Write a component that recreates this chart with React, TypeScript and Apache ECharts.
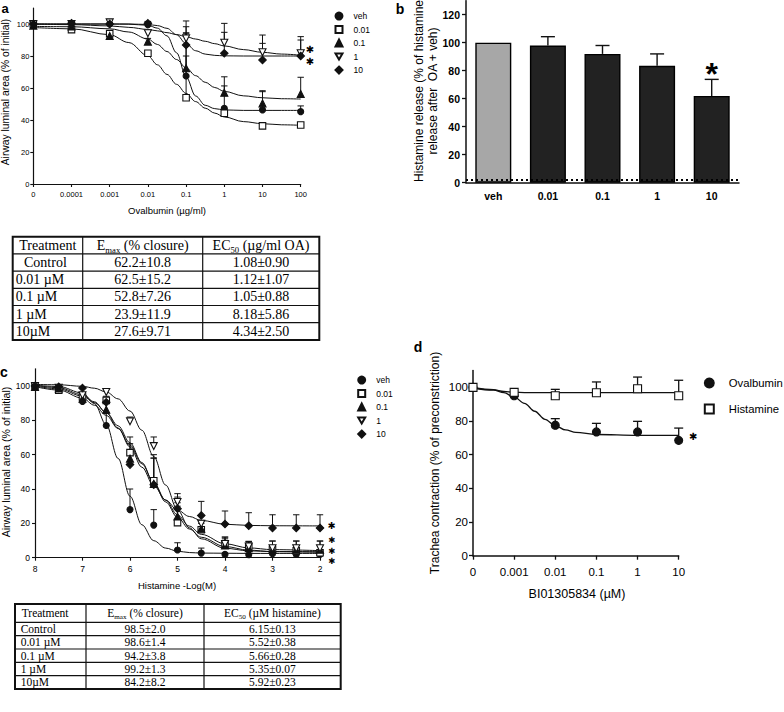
import React, { useEffect, useRef } from 'react';
import * as echarts from 'echarts';

const SANS = '"Liberation Sans", Arial, Helvetica, sans-serif';
const SERIF = '"Liberation Serif", "Times New Roman", Times, serif';
const STAR_FONT = '"DejaVu Sans", sans-serif';
const INK = '#111111';

// ---------- Panel a: ovalbumin concentration-response ----------
const aDoseLabels = ['0', '0.0001', '0.001', '0.01', '0.1', '1', '10', '100'];
const aDoseLog = [-5, -4, -3, -2, -1, 0, 1, 2];
const aVeh = [100, 100, 100, 99.5, 67.5, 47.3, 46.3, 45.2];
const aVehErr = [null, 102, null, 101.6, 98.3, 61.3, 57.7, 48.8];
const a001 = [100, 96.5, 94, 81.7, 53.9, 44.2, 36.3, 36.9];
const a001Err = [null, null, 95.5, 83, 80, 47, 38, 38.5];
const a01 = [99, 98.5, 92.5, 89, 72.3, 57.1, 50.4, 56.3];
const a01Err = [null, 100, 94, 91, 94.5, 67, 58.3, 66.7];
const a1 = [100, 100, 101, 94.2, 91, 88.3, 82.3, 81.7];
const a1Err = [null, null, 102.5, 96, 94.2, 100.4, 93.1, 92.1];
const a10 = [100, 100.5, 100, 100.4, 86.9, 81.7, 77.5, 80];
const a10Err = [null, null, null, 101.6, 101.9, 94.8, 87.9, 90];
// fitted curves
const aFitX = [-5, -4, -3, -2.5, -2, -1.75, -1.5, -1.25, -1, -0.75, -0.5, -0.25, 0, 0.5, 1, 1.5, 2];
const aVehFit = [100, 100, 100, 99.9, 99.2, 97.4, 92.6, 82.0, 66.9, 55.0, 49.2, 47.1, 46.3, 46.0, 46.0, 46.0, 46.0];
const a001Fit = [97.8, 97.0, 93.3, 88.4, 80.1, 74.5, 68.5, 62.3, 56.6, 51.5, 47.4, 44.3, 41.9, 39.0, 37.7, 37.0, 36.7];
const a01Fit = [98.5, 98.3, 97.0, 95.0, 90.6, 87.2, 82.8, 77.8, 72.6, 67.7, 63.6, 60.3, 57.9, 55.1, 53.9, 53.3, 53.1];
const a1Fit = [99.9, 99.6, 98.8, 97.9, 96.6, 95.7, 94.6, 93.4, 92.1, 90.6, 89.2, 87.7, 86.3, 84.0, 82.3, 81.2, 80.5];
const a10Fit = [100, 100, 100, 100, 99.7, 99.0, 97.3, 93.3, 87.7, 83.3, 81.2, 80.4, 80.1, 80, 80, 80, 80];

// ---------- Panel b: histamine release ----------
const bCats = ['veh', '0.01', '0.1', '1', '10'];
const bValues = [100, 98, 92, 83.5, 62];
const bErrTop = [null, 104.3, 98, 92, 73.8];
const bBaseline = 2;

// ---------- Panel c: histamine concentration-response ----------
const cDose = [8, 7.5, 7, 6.5, 6, 5.5, 5, 4.5, 4, 3.5, 3, 2.5, 2];
const cVeh = [99.5, 97.5, 91, 77, 28, 19, 4.5, 2.7, 1.9, 1.7, 2.3, 1.9, 1.9];
const cVehErr = [null, null, 93, 84, 40, 28, 8.7, 5.6, null, null, null, null, null];
const c001 = [100, 97.5, 93.6, 91.6, 61.2, 44.8, 20.4, 16.3, 7.6, 6.2, 4.6, 4.0, 2.9];
const c001Err = [null, null, null, 94, 70.3, 58, 32, 21.7, 12, 9.5, 7, 7, 7];
const c01 = [99.5, 98.5, 92.6, 86.2, 57.7, 43, 24, 16.9, 7.2, 5.6, 4.6, 4.6, 4.6];
const c01Err = [null, null, null, 90, 66.4, 60, 30, 20, 11, 9, 9.7, 9.7, 9.7];
const c1 = [100, 99, 94.6, 96.5, 79.4, 65, 32.4, 19.8, 8, 6.5, 5.5, 5.5, 5.5];
const c1Err = [null, null, null, 98, 81.9, 70.3, 35.3, 21.7, 12, 9.5, 9.7, 9.7, 9.7];
const c10 = [100, 99.5, 98.8, 90.5, 54.2, 42.5, 28.5, 24.6, 19.6, 18.6, 17.3, 17.3, 17.3];
const c10Err = [null, null, null, null, 60, 58, 37.3, 32.8, 27.2, 26.2, 25, 25, 25];
const cFitX = [8, 7.5, 7, 6.75, 6.5, 6.25, 6, 5.75, 5.5, 5.25, 5, 4.75, 4.5, 4, 3.5, 3, 2];
const cVehFit = [100.4, 99.7, 95.9, 89.8, 77.4, 57.8, 35.8, 19.2, 9.9, 5.6, 3.8, 3.0, 2.7, 2.6, 2.5, 2.5, 2.5];
const c001Fit = [99.6, 97.6, 92.9, 88.8, 82.9, 75.2, 65.6, 54.7, 43.7, 33.5, 24.9, 18.4, 13.6, 8.1, 5.7, 4.7, 4.1];
const c01Fit = [100.0, 98.3, 94.1, 90.3, 84.6, 76.8, 66.9, 55.4, 43.5, 32.5, 23.5, 16.7, 11.9, 6.5, 4.4, 3.5, 3.1];
const c1Fit = [100.9, 100.7, 99.8, 98.7, 96.5, 92.5, 85.4, 74.2, 58.9, 42.3, 27.8, 17.4, 11.0, 5.5, 4.0, 3.6, 3.5];
const c10Fit = [100.4, 99.0, 94.9, 90.8, 84.4, 75.5, 64.5, 52.7, 42.0, 33.6, 27.7, 24.0, 21.7, 19.5, 18.8, 18.6, 18.5];

// ---------- Panel d: trachea contraction ----------
const dDoseLabels = ['0', '0.001', '0.01', '0.1', '1', '10'];
const dDoseLog = [-4, -3, -2, -1, 0, 1];
const dOva = [100, 95, 77.5, 73.5, 73.5, 68.5];
const dOvaErr = [null, null, 81.4, 78.6, 79.8, 75.8];
const dHis = [100, 97, 95, 96.8, 99.2, 95];
const dHisErr = [null, null, 98.8, 103.2, 106.1, 104.2];
const dFitX = [-4, -3.5, -3.25, -3, -2.75, -2.5, -2.25, -2, -1.75, -1.5, -1, 0, 1];
const dOvaFit = [99.6, 98.3, 96.8, 94.3, 90.5, 85.8, 81.0, 77.2, 74.7, 73.2, 72.0, 71.5, 71.5];
const dHisFit = [99.9, 98.6, 97.6, 97.0, 96.9, 96.8, 96.8, 96.8, 96.8, 96.8, 96.8, 96.8, 96.8];

// ---------- Tables ----------
const t1Treatment = [' Control', '0.01 µM', '0.1 µM', '1 µM', '10µM'];
const t1Emax = ['62.2±10.8', '62.5±15.2', '52.8±7.26', '23.9±11.9', '27.6±9.71'];
const t1EC50 = ['1.08±0.90', '1.12±1.07', '1.05±0.88', '8.18±5.86', '4.34±2.50'];
const t2Treatment = ['Control', '0.01 µM', '0.1 µM', '1 µM', '10µM'];
const t2Emax = ['98.5±2.0', '98.6±1.4', '94.2±3.8', '99.2±1.3', '84.2±8.2'];
const t2EC50 = ['6.15±0.13', '5.52±0.38', '5.66±0.28', '5.35±0.07', '5.92±0.23'];

const TRI_DOWN = 'path://M0,0L10,0L5,8.66Z';

const pairs = (xs: number[], ys: number[]) => xs.map((x, i) => [x, ys[i]]);
const errData = (xs: number[], ys: number[], tops: (number | null)[]) =>
  xs.map((x, i) => [x, ys[i], tops[i]]).filter((d) => d[2] != null);

const errRender = (cap: number, lw: number) => (params: any, api: any) => {
  const p0 = api.coord([api.value(0), api.value(1)]);
  const p1 = api.coord([api.value(0), api.value(2)]);
  const style = { stroke: INK, lineWidth: lw, fill: 'none' };
  return {
    type: 'group',
    children: [
      { type: 'line', shape: { x1: p0[0], y1: p0[1], x2: p1[0], y2: p1[1] }, style },
      { type: 'line', shape: { x1: p1[0] - cap, y1: p1[1], x2: p1[0] + cap, y2: p1[1] }, style },
    ],
  };
};

type Group = {
  name: string; ys: number[]; err: (number | null)[]; fit: number[];
  symbol: string; size: number; open: boolean; rotate?: number;
};

function groupSeries(g: Group, xs: number[], fitX: number[], axis: number, cap: number, lw: number, fitLw: number) {
  return [
    {
      type: 'custom', name: g.name + '-err-' + axis, xAxisIndex: axis, yAxisIndex: axis,
      renderItem: errRender(cap, lw), data: errData(xs, g.ys, g.err), z: 2, silent: true,
      encode: { x: 0, y: [1, 2] },
    },
    {
      type: 'line', name: g.name + '-fit-' + axis, xAxisIndex: axis, yAxisIndex: axis,
      data: pairs(fitX, g.fit), smooth: 0.35, smoothMonotone: 'x', showSymbol: false, symbol: 'none',
      lineStyle: { color: INK, width: fitLw }, z: 3, silent: true,
    },
    {
      type: 'scatter', name: g.name, xAxisIndex: axis, yAxisIndex: axis,
      data: pairs(xs, g.ys), symbol: g.symbol, symbolSize: g.size, symbolRotate: g.rotate || 0,
      itemStyle: { color: g.open ? '#ffffff' : INK, borderColor: INK, borderWidth: 1.1, opacity: 1 },
      z: 4, silent: true,
    },
  ];
}

const aGroups: Group[] = [
  { name: 'veh', ys: aVeh, err: aVehErr, fit: aVehFit, symbol: 'circle', size: 6, open: false },
  { name: '0.01', ys: a001, err: a001Err, fit: a001Fit, symbol: 'rect', size: 6.5, open: true },
  { name: '0.1', ys: a01, err: a01Err, fit: a01Fit, symbol: 'triangle', size: 7, open: false },
  { name: '1', ys: a1, err: a1Err, fit: a1Fit, symbol: 'triangle', size: 7, open: true, rotate: 180 },
  { name: '10', ys: a10, err: a10Err, fit: a10Fit, symbol: 'diamond', size: 7.5, open: false },
];
const cGroups: Group[] = [
  { name: 'veh', ys: cVeh, err: cVehErr, fit: cVehFit, symbol: 'circle', size: 6, open: false },
  { name: '0.01', ys: c001, err: c001Err, fit: c001Fit, symbol: 'rect', size: 6.5, open: true },
  { name: '0.1', ys: c01, err: c01Err, fit: c01Fit, symbol: 'triangle', size: 7, open: false },
  { name: '1', ys: c1, err: c1Err, fit: c1Fit, symbol: 'triangle', size: 7, open: true, rotate: 180 },
  { name: '10', ys: c10, err: c10Err, fit: c10Fit, symbol: 'diamond', size: 7.5, open: false },
];
const dGroups: Group[] = [
  { name: 'Ovalbumin', ys: dOva, err: dOvaErr, fit: dOvaFit, symbol: 'circle', size: 8, open: false },
  { name: 'Histamine', ys: dHis, err: dHisErr, fit: dHisFit, symbol: 'rect', size: 8, open: true },
];

function txt(x: number, y: number, text: string, o: any = {}, rotation = 0) {
  const style: any = {
    text, fontFamily: o.fontFamily || SANS, fontSize: o.fontSize || 10, fontWeight: o.fontWeight || 'normal',
    fill: o.fill || '#000', align: o.align || 'center', verticalAlign: o.verticalAlign || 'middle',
  };
  if (o.lineHeight) style.lineHeight = o.lineHeight;
  return { type: 'text', x, y, rotation, silent: true, style };
}

// small heavy asterisks used as significance marks
const smallStar = (x: number, y: number, fs: number) =>
  txt(x, y, '✱', { fontSize: fs, fontFamily: STAR_FONT, fontWeight: 'bold' });

function buildTable(xe: number[], ye: number[], fs: number, emaxH: string, ecH: string,
  c1: string[], c2: string[], c3: string[], c1x: number[]) {
  const els: any[] = [];
  const bottom = ye[ye.length - 1];
  els.push({ type: 'rect', silent: true, shape: { x: xe[0], y: ye[0], width: xe[3] - xe[0], height: bottom - ye[0] }, style: { fill: 'none', stroke: INK, lineWidth: 2 } });
  for (let i = 1; i < ye.length - 1; i++) {
    els.push({ type: 'line', silent: true, shape: { x1: xe[0], y1: ye[i], x2: xe[3], y2: ye[i] }, style: { stroke: INK, lineWidth: 1.2 } });
  }
  for (let j = 1; j < 3; j++) {
    els.push({ type: 'line', silent: true, shape: { x1: xe[j], y1: ye[0], x2: xe[j], y2: bottom }, style: { stroke: INK, lineWidth: 1.2 } });
  }
  const rich = {
    m: { fontSize: fs, fontFamily: SERIF, fill: '#000', color: '#000', lineHeight: fs + 4 },
    s: { fontSize: fs * 0.62, fontFamily: SERIF, fill: '#000', color: '#000', lineHeight: fs * 0.62 + 1, verticalAlign: 'bottom' },
  };
  const serif = { fontFamily: SERIF, fontSize: fs };
  const hy = (ye[0] + ye[1]) / 2;
  els.push(txt(c1x[0], hy, 'Treatment', { ...serif, align: 'left' }));
  els.push({ type: 'text', silent: true, x: (xe[1] + xe[2]) / 2, y: hy, style: { text: emaxH, rich, align: 'center', verticalAlign: 'middle' } });
  els.push({ type: 'text', silent: true, x: (xe[2] + xe[3]) / 2, y: hy, style: { text: ecH, rich, align: 'center', verticalAlign: 'middle' } });
  for (let i = 0; i < c1.length; i++) {
    const cy = (ye[i + 1] + ye[i + 2]) / 2;
    els.push(txt(c1x[i + 1], cy, c1[i], { ...serif, align: 'left' }));
    els.push(txt((xe[1] + xe[2]) / 2, cy, c2[i], serif));
    els.push(txt((xe[2] + xe[3]) / 2, cy, c3[i], serif));
  }
  return els;
}

const axisLineStyle = (w: number) => ({ show: true, onZero: false, lineStyle: { color: INK, width: w } });

const legendItems = (gs: Group[]) =>
  gs.map((g) => (g.rotate ? { name: g.name, icon: TRI_DOWN } : { name: g.name }));

function buildOption() {
  const series: any[] = [];
  aGroups.forEach((g) => series.push(...groupSeries(g, aDoseLog, aFitX, 0, 3.2, 1, 1)));
  cGroups.forEach((g) => series.push(...groupSeries(g, cDose, cFitX, 2, 3.2, 1, 1)));
  dGroups.forEach((g) => series.push(...groupSeries(g, dDoseLog, dFitX, 3, 4.5, 1.3, 1.3)));

  series.push({
    type: 'bar', name: 'histamine-release', xAxisIndex: 1, yAxisIndex: 1, barWidth: 36, silent: true,
    data: bValues.map((v, i) => ({
      value: v,
      itemStyle: { color: i === 0 ? '#a7a7a7' : '#222222', borderColor: '#000', borderWidth: 1.4 },
    })),
    z: 2,
    markLine: {
      silent: true, symbol: 'none', label: { show: false },
      lineStyle: { color: '#000', type: [2, 3], width: 2 },
      data: [{ yAxis: bBaseline }],
    },
  });
  series.push({
    type: 'custom', name: 'histamine-release-err', xAxisIndex: 1, yAxisIndex: 1,
    renderItem: errRender(7, 1.4), silent: true, z: 1,
    data: bValues.map((v, i) => [i, v, bErrTop[i]]).filter((d) => d[2] != null),
    encode: { x: 0, y: [1, 2] },
  });

  const legendBase = {
    orient: 'vertical', selectedMode: false, padding: 0, itemGap: 0, inactiveColor: '#000',
  };

  const graphic: any[] = [
    // panel letters
    txt(5, 8, 'a', { fontSize: 13, fontWeight: 'bold' }),
    txt(400, 9, 'b', { fontSize: 14, fontWeight: 'bold' }),
    txt(4, 371.5, 'c', { fontSize: 14, fontWeight: 'bold' }),
    txt(418, 346.5, 'd', { fontSize: 14, fontWeight: 'bold' }),
    // axis titles
    txt(5, 92, 'Airway luminal area (% of initial)', { fontSize: 10.3 }, Math.PI / 2),
    txt(167, 210.5, 'Ovalbumin (µg/ml)', { fontSize: 9.5 }),
    txt(418.5, 91, 'Histamine release (% of histamine', { fontSize: 12 }, Math.PI / 2),
    txt(432.5, 91, 'release after  OA + veh)', { fontSize: 12 }, Math.PI / 2),
    txt(6, 462, 'Airway luminal area (% of initial)', { fontSize: 10.6 }, Math.PI / 2),
    txt(177, 585, 'Histamine -Log(M)', { fontSize: 9.5 }),
    txt(435, 463, 'Trachea contraction (% of preconstriction)', { fontSize: 12 }, Math.PI / 2),
    txt(577, 593.5, 'BI01305834 (µM)', { fontSize: 12.5 }),
    // significance stars
    smallStar(310, 49, 10),
    smallStar(310, 61.7, 10),
    txt(711.7, 73.7, '*', { fontSize: 32, fontWeight: 'bold', lineHeight: 16 }),
    smallStar(331.7, 525, 9.5),
    smallStar(331.7, 540.4, 8.5),
    smallStar(331.7, 550.6, 8.5),
    smallStar(331.7, 561.0, 8.5),
    smallStar(693.3, 436, 10),
    ...buildTable([12.7, 82.7, 202.7, 319.3], [236.7, 253.9, 271.1, 288.3, 305.5, 322.7, 339.9], 14,
      '{m|E}{s|max}{m| (% closure)}', '{m|EC}{s|50}{m| (µg/ml OA)}',
      t1Treatment, t1Emax, t1EC50, [19.3, 20.5, 15.8, 15.8, 15.8, 15.8]),
    ...buildTable([15, 86, 204, 340.7], [604, 622.3, 635.7, 649, 662.3, 675.7, 689], 11.5,
      '{m|E}{s|max}{m| (% closure)}', '{m|EC}{s|50}{m| (µM histamine)}',
      t2Treatment, t2Emax, t2EC50, [21.7, 20.7, 20.7, 20.7, 20.7, 20.7]),
  ];

  const tick = (len: number, w: number, custom?: number[]) => {
    const t: any = { show: true, length: len, lineStyle: { color: INK, width: w } };
    if (custom) t.customValues = custom;
    return t;
  };
  const yTicks = [0, 20, 40, 60, 80, 100];
  const bTicks = [0, 20, 40, 60, 80, 100, 120];

  return {
    animation: false,
    backgroundColor: '#ffffff',
    textStyle: { fontFamily: SANS },
    grid: [
      { left: 33.3, top: 8, width: 267.4, height: 176, outerBoundsMode: 'none' },
      { left: 466, top: 0.7, width: 273, height: 182, outerBoundsMode: 'none' },
      { left: 35, top: 368.8, width: 285, height: 188.9, outerBoundsMode: 'none' },
      { left: 473, top: 370.5, width: 205.7, height: 185.2, outerBoundsMode: 'none' },
    ],
    xAxis: [
      {
        type: 'value', gridIndex: 0, min: -5, max: 2, interval: 1,
        axisLine: axisLineStyle(1.2), axisTick: tick(3, 1.1), splitLine: { show: false },
        axisLabel: {
          fontSize: 7.5, color: '#000', margin: 6, fontFamily: SANS,
          formatter: (v: number) => { const k = aDoseLog.indexOf(v); return k >= 0 ? aDoseLabels[k] : ''; },
        },
      },
      {
        type: 'category', gridIndex: 1, data: bCats,
        axisLine: axisLineStyle(1.5), axisTick: { show: false },
        axisLabel: { fontSize: 10.5, fontWeight: 'bold', color: '#000', margin: 8, fontFamily: SANS },
      },
      {
        type: 'value', gridIndex: 2, min: 2, max: 8, interval: 1, inverse: true,
        axisLine: axisLineStyle(1.2), axisTick: tick(3, 1.1), splitLine: { show: false },
        axisLabel: { fontSize: 8.5, color: '#000', margin: 7, fontFamily: SANS },
      },
      {
        type: 'value', gridIndex: 3, min: -4, max: 1, interval: 1,
        axisLine: axisLineStyle(1.5), axisTick: tick(4, 1.3), splitLine: { show: false },
        axisLabel: {
          fontSize: 11.5, color: '#000', margin: 10, fontFamily: SANS,
          formatter: (v: number) => { const k = dDoseLog.indexOf(v); return k >= 0 ? dDoseLabels[k] : ''; },
        },
      },
    ],
    yAxis: [
      {
        type: 'value', gridIndex: 0, min: 0, max: 110, interval: 10,
        axisLine: axisLineStyle(1.2), axisTick: tick(3, 1.1, yTicks), splitLine: { show: false },
        axisLabel: { fontSize: 7.5, color: '#000', margin: 4, fontFamily: SANS, customValues: yTicks },
      },
      {
        type: 'value', gridIndex: 1, min: 0, max: 130, interval: 10,
        axisLine: axisLineStyle(1.5), axisTick: tick(4, 1.3, bTicks), splitLine: { show: false },
        axisLabel: { fontSize: 10.5, fontWeight: 'bold', color: '#000', margin: 6, fontFamily: SANS, customValues: bTicks },
      },
      {
        type: 'value', gridIndex: 2, min: 0, max: 110, interval: 10,
        axisLine: axisLineStyle(1.2), axisTick: tick(3, 1.1, yTicks), splitLine: { show: false },
        axisLabel: { fontSize: 8.5, color: '#000', margin: 5, fontFamily: SANS, customValues: yTicks },
      },
      {
        type: 'value', gridIndex: 3, min: 0, max: 110, interval: 10,
        axisLine: axisLineStyle(1.5), axisTick: tick(4, 1.3, yTicks), splitLine: { show: false },
        axisLabel: { fontSize: 11.5, color: '#000', margin: 5, fontFamily: SANS, customValues: yTicks },
      },
    ],
    legend: [
      {
        ...legendBase, left: 334.5, top: 9.3, itemWidth: 7, itemHeight: 7,
        data: legendItems(aGroups),
        textStyle: { fontSize: 8.5, color: '#000', lineHeight: 13.5, padding: [0, 0, 0, 6], fontFamily: SANS },
      },
      {
        ...legendBase, left: 357.2, top: 373.3, itemWidth: 7, itemHeight: 7,
        data: legendItems(cGroups),
        textStyle: { fontSize: 8.5, color: '#000', lineHeight: 13.5, padding: [0, 0, 0, 6], fontFamily: SANS },
      },
      {
        ...legendBase, left: 703.8, top: 376, itemWidth: 9, itemHeight: 9, itemGap: 12,
        data: legendItems(dGroups),
        textStyle: { fontSize: 11.3, color: '#000', lineHeight: 14, padding: [0, 0, 0, 10], fontFamily: SANS },
      },
    ],
    series,
    graphic,
  };
}

export default function App() {
  const ref = useRef<HTMLDivElement>(null);
  useEffect(() => {
    document.body.style.margin = '0';
    if (!ref.current) return;
    const chart = echarts.init(ref.current, undefined, { renderer: 'svg' });
    chart.setOption(buildOption() as any);
    return () => chart.dispose();
  }, []);
  return (
    <div
      ref={ref}
      style={{ position: 'absolute', left: 0, top: 0, width: 784, height: 712, background: '#fff' }}
    />
  );
}
